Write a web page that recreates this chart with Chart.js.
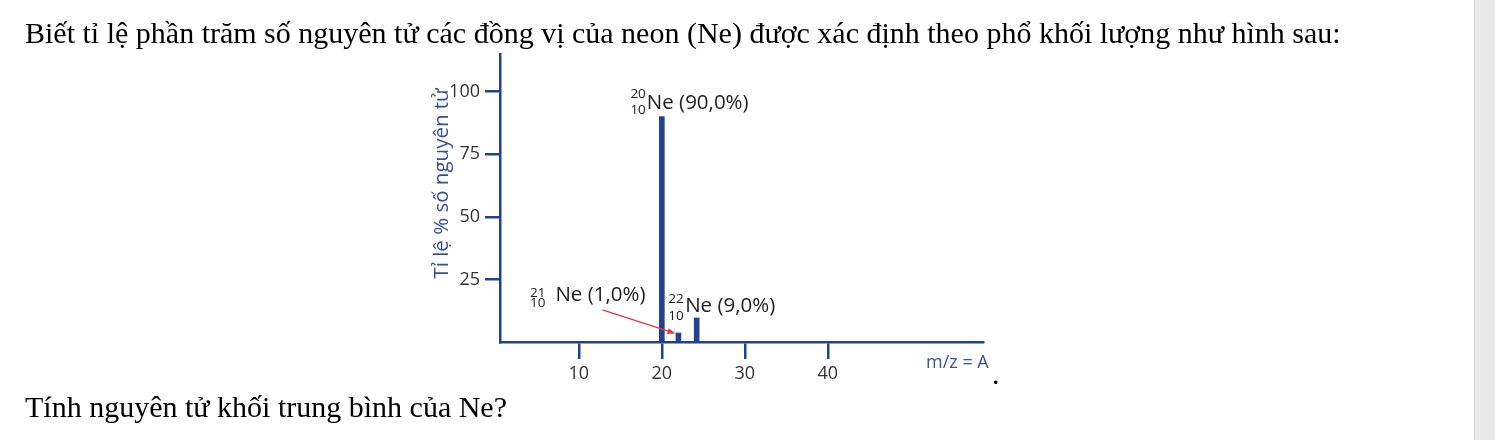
<!DOCTYPE html>
<html><head><meta charset="utf-8">
<script src="https://cdn.jsdelivr.net/npm/chart.js@4"></script>
<style>
html,body{margin:0;padding:0;background:#fff;width:1495px;height:440px;overflow:hidden;}
#wrap{position:absolute;left:0;top:0;width:1474px;height:440px;}
.t{position:absolute;left:25px;font-family:'Liberation Serif','Times New Roman',serif;font-size:30px;line-height:30px;color:#000;white-space:nowrap;}
#sb{position:absolute;left:1474px;top:0;width:21px;height:440px;background:#e9e9e9;border-left:1px solid #cfcfcf;box-sizing:border-box;}
</style></head><body>
<div id="wrap"><canvas id="c" width="1474" height="440"></canvas></div>
<div class="t" style="top:18px">Biết tỉ lệ phần trăm số nguyên tử các đồng vị của neon (Ne) được xác định theo phổ khối lượng như hình sau:</div>
<div class="t" style="top:392px">Tính nguyên tử khối trung bình của Ne?</div>
<div class="t" style="left:992px;top:359px">.</div>
<div id="sb"></div>
<script>
// ---- data ----
const massNumbers   = [20, 21, 22];
const atomicNumbers = [10, 10, 10];
const abundanceText = ['90,0%', '1,0%', '9,0%'];
const peakMz        = [20, 22, 24.2];   // peak positions as drawn on the m/z axis
const peakHeight    = [90, 3.6, 9.6];   // peak heights as drawn (%)
const xTicks = [10, 20, 30, 40];
const yTicks = [25, 50, 75, 100];
const yTitle = 'Tỉ lệ % số nguyên tử';
const xTitle = 'm/z = A';

const BLUE = '#24418f';
const TITLE_BLUE = '#34509f';
const FONT = "'Open Sans', 'Noto Sans', sans-serif";
Chart.defaults.font.family = FONT;

// label layout relative to each peak's top (style only)
const labelLayout = [
  { mainDx: -15,  mainDy: -13,   nucDx: -16,   supDy: -22,   subDy: -6 },
  { mainDx: -123, mainDy: -37.5, nucDx: -133,  supDy: -40,   subDy: -30, arrow: true },
  { mainDx: -11.5,mainDy: -12.3, nucDx: -13,   supDy: -19,   subDy: -1.5 }
];

const annot = {
  id: 'annot',
  afterDatasetsDraw(chart) {
    const { ctx, chartArea, scales: { y } } = chart;
    const bars = chart.getDatasetMeta(0).data;
    ctx.save();
    // y-axis title
    const cy = (y.getPixelForValue(yTicks[0]) + y.getPixelForValue(yTicks[yTicks.length - 1])) / 2 - 2;
    ctx.save();
    ctx.translate(447.5, cy);
    ctx.rotate(-Math.PI / 2);
    ctx.fillStyle = TITLE_BLUE;
    ctx.font = '20.5px ' + FONT;
    ctx.textAlign = 'center';
    ctx.textBaseline = 'alphabetic';
    ctx.fillText(yTitle, 0, 0);
    ctx.restore();
    // x-axis title
    ctx.fillStyle = TITLE_BLUE;
    ctx.font = '18px ' + FONT;
    ctx.textAlign = 'left';
    ctx.textBaseline = 'middle';
    ctx.fillText(xTitle, chartArea.right - 57, 363);
    // isotope labels
    bars.forEach((b, i) => {
      const L = labelLayout[i];
      ctx.fillStyle = '#222';
      ctx.font = '13.5px ' + FONT;
      ctx.textAlign = 'right';
      ctx.textBaseline = 'middle';
      ctx.fillText(String(massNumbers[i]), b.x + L.nucDx, b.y + L.supDy);
      ctx.fillText(String(atomicNumbers[i]), b.x + L.nucDx, b.y + L.subDy);
      ctx.font = '20.5px ' + FONT;
      ctx.textAlign = 'left';
      ctx.fillText('Ne (' + abundanceText[i] + ')', b.x + L.mainDx, b.y + L.mainDy);
      if (L.arrow) {
        const x0 = b.x - 76, y0 = b.y - 23, x1 = b.x - 3, y1 = b.y + 0.5;
        const ang = Math.atan2(y1 - y0, x1 - x0);
        ctx.strokeStyle = '#e8383d';
        ctx.fillStyle = '#e8383d';
        ctx.lineWidth = 1.3;
        ctx.beginPath();
        ctx.moveTo(x0, y0);
        ctx.lineTo(x1 - 6 * Math.cos(ang), y1 - 6 * Math.sin(ang));
        ctx.stroke();
        ctx.beginPath();
        ctx.moveTo(x1, y1);
        ctx.lineTo(x1 - 8 * Math.cos(ang) + 3 * Math.sin(ang), y1 - 8 * Math.sin(ang) - 3 * Math.cos(ang));
        ctx.lineTo(x1 - 8 * Math.cos(ang) - 3 * Math.sin(ang), y1 - 8 * Math.sin(ang) + 3 * Math.cos(ang));
        ctx.closePath();
        ctx.fill();
      }
    });
    ctx.restore();
  }
};

new Chart(document.getElementById('c'), {
  type: 'bar',
  data: {
    datasets: [{
      data: peakMz.map((x, i) => ({ x: x, y: peakHeight[i] })),
      backgroundColor: BLUE,
      borderWidth: 0,
      barThickness: 5
    }]
  },
  options: {
    responsive: false,
    animation: false,
    layout: { padding: { left: 0, top: 54, right: 491, bottom: 0 } },
    plugins: { legend: { display: false }, tooltip: { enabled: false } },
    scales: {
      x: {
        type: 'linear', min: 0.5, max: 58.7, offset: false,
        afterFit: s => { s.height = 98; },
        afterBuildTicks: s => { s.ticks = xTicks.map(v => ({ value: v })); },
        grid: { display: true, offset: false, drawOnChartArea: false, drawTicks: true, tickLength: 17, color: BLUE, lineWidth: 2.5 },
        border: { display: true, color: BLUE, width: 2.5 },
        ticks: { color: '#333', font: { size: 18 }, padding: 4, maxRotation: 0, autoSkip: false }
      },
      y: {
        type: 'linear', min: 0, max: 115,
        afterFit: s => { s.width = 500; },
        afterBuildTicks: s => { s.ticks = yTicks.map(v => ({ value: v })); },
        grid: { display: true, drawOnChartArea: false, drawTicks: true, tickLength: 15, color: BLUE, lineWidth: 2.5 },
        border: { display: true, color: BLUE, width: 2.5 },
        ticks: { color: '#333', font: { size: 18 }, padding: 5, autoSkip: false }
      }
    }
  },
  plugins: [annot]
});
</script>
</body></html>
